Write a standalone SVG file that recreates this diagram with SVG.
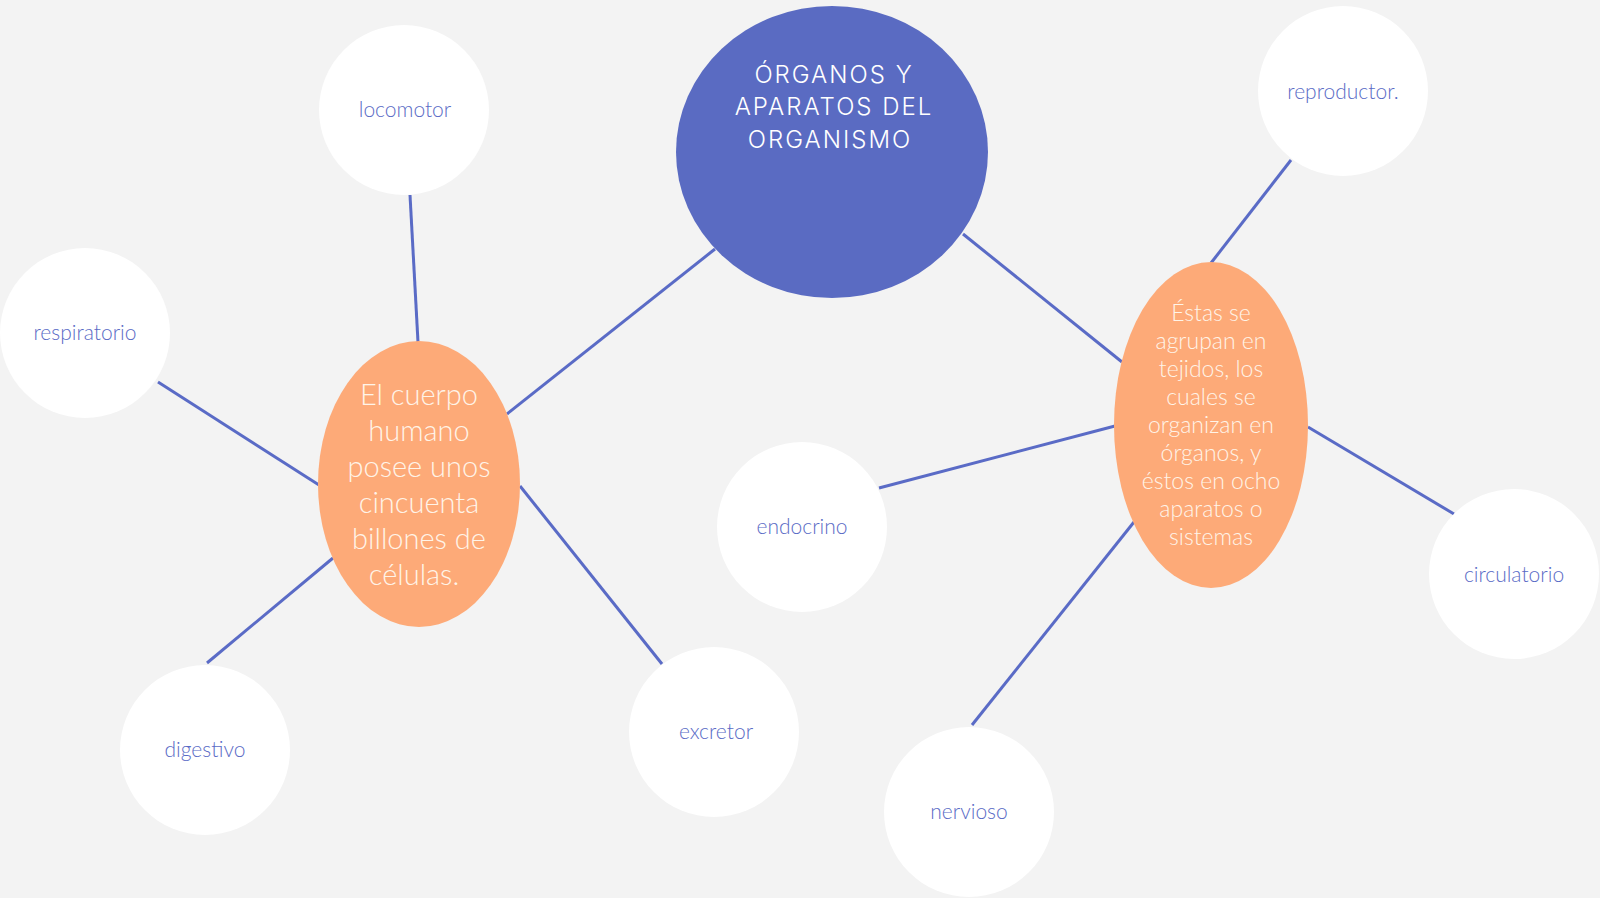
<svg xmlns="http://www.w3.org/2000/svg" width="1600" height="898" viewBox="0 0 1600 898">
<style>
.bg{fill:#f3f3f3}
.leaf{fill:#ffffff}
.leaf-t{font-family:"Lato","Noto Sans",sans-serif;font-weight:300;font-size:21px;fill:#5a6bc6;text-anchor:middle}
.mid{fill:#fdaa78}
.mid-t{font-family:"Lato","Noto Sans",sans-serif;font-weight:300;fill:#fff4e8;text-anchor:middle}
.main{fill:#5a6bc2}
.main-t{font-family:"Inter","Noto Sans",sans-serif;font-weight:300;font-size:24px;letter-spacing:2px;fill:#ffffff;text-anchor:middle}
.edge{stroke:#5a6bc6;stroke-width:3;fill:none}
</style>
<rect class="bg" x="0" y="0" width="1600" height="898"/>
<g id="connectors">
<line class="edge" x1="410" y1="195" x2="418" y2="342"/>
<line class="edge" x1="158" y1="382" x2="319" y2="485"/>
<line class="edge" x1="207" y1="663" x2="333" y2="558"/>
<line class="edge" x1="520" y1="486" x2="662" y2="664"/>
<line class="edge" x1="507" y1="414" x2="715" y2="249"/>
<line class="edge" x1="963" y1="234" x2="1122" y2="362"/>
<line class="edge" x1="1291" y1="160" x2="1211" y2="263"/>
<line class="edge" x1="879" y1="488" x2="1115" y2="426"/>
<line class="edge" x1="972" y1="725" x2="1134" y2="522"/>
<line class="edge" x1="1308" y1="427" x2="1454" y2="514"/>
</g>
<g id="node-main">
<ellipse class="main" cx="832" cy="152" rx="156" ry="146"/>
<text class="main-t" x="834" y="83">ÓRGANOS Y</text>
<text class="main-t" x="834" y="115">APARATOS DEL</text>
<text class="main-t" x="830" y="148">ORGANISMO</text>
</g>
<g id="node-cuerpo">
<ellipse class="mid" cx="419" cy="484" rx="101" ry="143"/>
<text class="mid-t" font-size="29" x="419" y="405">El cuerpo</text>
<text class="mid-t" font-size="29" x="419" y="441">humano</text>
<text class="mid-t" font-size="29" x="419" y="477">posee unos</text>
<text class="mid-t" font-size="29" x="419" y="513">cincuenta</text>
<text class="mid-t" font-size="29" x="419" y="549">billones de</text>
<text class="mid-t" font-size="29" x="414" y="585">células.</text>
</g>
<g id="node-estas">
<ellipse class="mid" cx="1211" cy="425" rx="97" ry="163"/>
<text class="mid-t" font-size="23" x="1211" y="321">Éstas se</text>
<text class="mid-t" font-size="23" x="1211" y="349">agrupan en</text>
<text class="mid-t" font-size="23" x="1211" y="377">tejidos, los</text>
<text class="mid-t" font-size="23" x="1211" y="405">cuales se</text>
<text class="mid-t" font-size="23" x="1211" y="433">organizan en</text>
<text class="mid-t" font-size="23" x="1211" y="461">órganos, y</text>
<text class="mid-t" font-size="23" x="1211" y="489">éstos en ocho</text>
<text class="mid-t" font-size="23" x="1211" y="517">aparatos o</text>
<text class="mid-t" font-size="23" x="1211" y="545">sistemas</text>
</g>
<g id="node-locomotor">
<circle class="leaf" cx="404" cy="110" r="85"/>
<text class="leaf-t" x="405" y="117">locomotor</text>
</g>
<g id="node-respiratorio">
<circle class="leaf" cx="85" cy="333" r="85"/>
<text class="leaf-t" x="85" y="340">respiratorio</text>
</g>
<g id="node-digestivo">
<circle class="leaf" cx="205" cy="750" r="85"/>
<text class="leaf-t" x="205" y="757">digestivo</text>
</g>
<g id="node-excretor">
<circle class="leaf" cx="714" cy="732" r="85"/>
<text class="leaf-t" x="716" y="739">excretor</text>
</g>
<g id="node-endocrino">
<circle class="leaf" cx="802" cy="527" r="85"/>
<text class="leaf-t" x="802" y="534">endocrino</text>
</g>
<g id="node-nervioso">
<circle class="leaf" cx="969" cy="812" r="85"/>
<text class="leaf-t" x="969" y="819">nervioso</text>
</g>
<g id="node-circulatorio">
<circle class="leaf" cx="1514" cy="574" r="85"/>
<text class="leaf-t" x="1514" y="582">circulatorio</text>
</g>
<g id="node-reproductor">
<circle class="leaf" cx="1343" cy="91" r="85"/>
<text class="leaf-t" x="1343" y="99">reproductor.</text>
</g>
</svg>
